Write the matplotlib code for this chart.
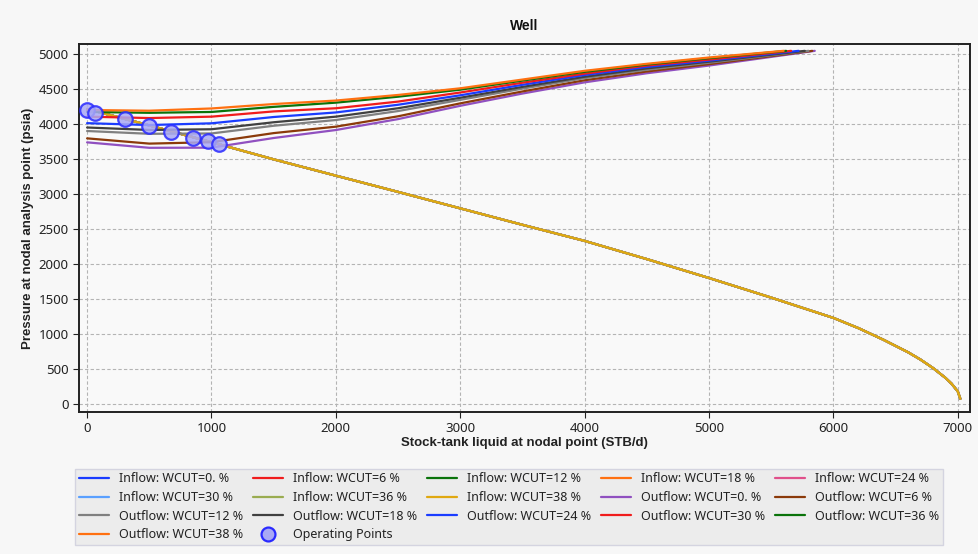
import matplotlib
matplotlib.use("Agg")
import matplotlib.pyplot as plt
from matplotlib.lines import Line2D

plt.rcParams['font.family'] = ['Noto Sans', 'DejaVu Sans']

# ---- data -------------------------------------------------------------
wcuts = ["0.", "6", "12", "18", "24", "30", "36", "38"]

# Inflow (IPR) curves: liquid rate (STB/d) vs pressure (psia)
inflow_q = [0, 500, 1000, 1500, 2000, 2500, 3000, 3500, 4000, 4500,
            5000, 5500, 6000, 6200, 6400, 6600, 6700, 6800, 6900, 6950,
            7000, 7020]
inflow_p = [4215, 3980, 3740, 3495, 3262, 3030, 2795, 2560, 2330, 2070,
            1800, 1520, 1230, 1085, 920, 740, 635, 515, 375, 290,
            180, 75]

# Outflow (VLP) curves, one per water cut
outflow_q_base = [0, 500, 1000, 1500, 2000, 2500, 3000, 3500, 4000, 4500, 5000]
outflow_q_end = {"0.": 5850, "6": 5830, "12": 5800, "18": 5770,
                 "24": 5720, "30": 5660, "36": 5620, "38": 5600}
outflow_p_end = 5045
outflow_p = {
    "0.": [3738, 3660, 3662, 3800, 3914, 4070, 4260, 4435, 4595, 4725, 4835],
    "6":  [3795, 3720, 3740, 3870, 3962, 4110, 4295, 4465, 4625, 4750, 4855],
    "12": [3900, 3860, 3865, 3975, 4057, 4185, 4345, 4505, 4655, 4775, 4875],
    "18": [3950, 3915, 3925, 4025, 4105, 4225, 4375, 4530, 4675, 4795, 4890],
    "24": [4012, 3985, 4010, 4100, 4165, 4275, 4410, 4560, 4700, 4815, 4905],
    "30": [4105, 4085, 4105, 4180, 4225, 4320, 4450, 4590, 4720, 4835, 4920],
    "36": [4172, 4160, 4172, 4245, 4305, 4390, 4490, 4620, 4745, 4850, 4940],
    "38": [4200, 4190, 4222, 4285, 4335, 4415, 4510, 4635, 4760, 4860, 4950],
}

# Operating points (intersection of inflow and outflow)
op_q = [0, 64, 305, 498, 675, 852, 973, 1061]
op_p = [4200, 4157, 4071, 3971, 3886, 3800, 3757, 3714]

inflow_colors = ["#1a3cff", "#f01c1c", "#0a730a", "#ff7010",
                 "#e0508a", "#5aa0ff", "#9aac50", "#e0a810"]
outflow_colors = ["#9050c0", "#8b3a0a", "#808080", "#404040",
                  "#1a3cff", "#f01c1c", "#0a730a", "#ff7010"]

bold_font = dict(family=["Liberation Sans", "DejaVu Sans"], fontweight="bold")

# ---- figure -----------------------------------------------------------
fig = plt.figure(figsize=(9.79, 5.54), dpi=100, facecolor="#f7f7f7")
ax = fig.add_axes([0.0807, 0.2563, 0.9101, 0.6643], facecolor="#f9f9f9")

handles = []
labels = []
for wc, c in zip(wcuts, inflow_colors):
    ln, = ax.plot(inflow_q, inflow_p, color=c, lw=1.6, solid_capstyle="round")
    handles.append(ln)
    labels.append(f"Inflow: WCUT={wc} %")

for wc, c in zip(wcuts, outflow_colors):
    q = outflow_q_base + [outflow_q_end[wc]]
    p = outflow_p[wc] + [outflow_p_end]
    ln, = ax.plot(q, p, color=c, lw=1.6, solid_capstyle="round")
    handles.append(ln)
    labels.append(f"Outflow: WCUT={wc} %")

ax.scatter(op_q, op_p, s=110, facecolor="#a9a9f5", edgecolor="#2a2aff",
           linewidths=1.6, alpha=0.85, zorder=5)
op_handle = Line2D([], [], ls="none", marker="o", markersize=10,
                   markerfacecolor="#a9a9f5", markeredgecolor="#2a2aff",
                   markeredgewidth=1.6)
handles.append(op_handle)
labels.append("Operating Points")

ax.set_xlim(-65, 7098)
ax.set_ylim(-114, 5143)
ax.set_xticks(range(0, 7001, 1000))
ax.set_yticks(range(0, 5001, 500))
ax.tick_params(labelsize=9.5, colors="#222222", length=4, width=0.8)
ax.grid(True, ls=(0, (3, 2)), color="#b4b4b4", lw=0.8)
ax.set_axisbelow(True)
for side in ["left", "bottom", "right", "top"]:
    ax.spines[side].set_color("#222222")
    ax.spines[side].set_linewidth(1.4)

ax.set_title("Well", fontsize=10, color="#111111", pad=10, **bold_font)
ax.set_xlabel("Stock-tank liquid at nodal point (STB/d)", fontsize=9.5,
              color="#222222", labelpad=1, **bold_font)
ax.set_ylabel("Pressure at nodal analysis point (psia)", fontsize=9.5,
              color="#222222", labelpad=3, **bold_font)

# legend filled row by row across five columns
order = [0, 5, 10, 15, 1, 6, 11, 16, 2, 7, 12, 3, 8, 13, 4, 9, 14]
leg = fig.legend([handles[i] for i in order], [labels[i] for i in order],
                 ncol=5, loc="lower left",
                 bbox_to_anchor=(0.0766, 0.0162, 0.8866, 0.13),
                 mode="expand", fontsize=9, frameon=True, fancybox=False,
                 facecolor="#ececec", edgecolor="#d4d4e0", framealpha=1,
                 handlelength=2.4, handletextpad=0.8, columnspacing=0.5,
                 labelspacing=0.45, borderaxespad=0, borderpad=0.3)
leg.get_frame().set_linewidth(1.0)
for t in leg.get_texts():
    t.set_color("#222222")

fig.savefig("out.png", dpi=100, facecolor=fig.get_facecolor())
